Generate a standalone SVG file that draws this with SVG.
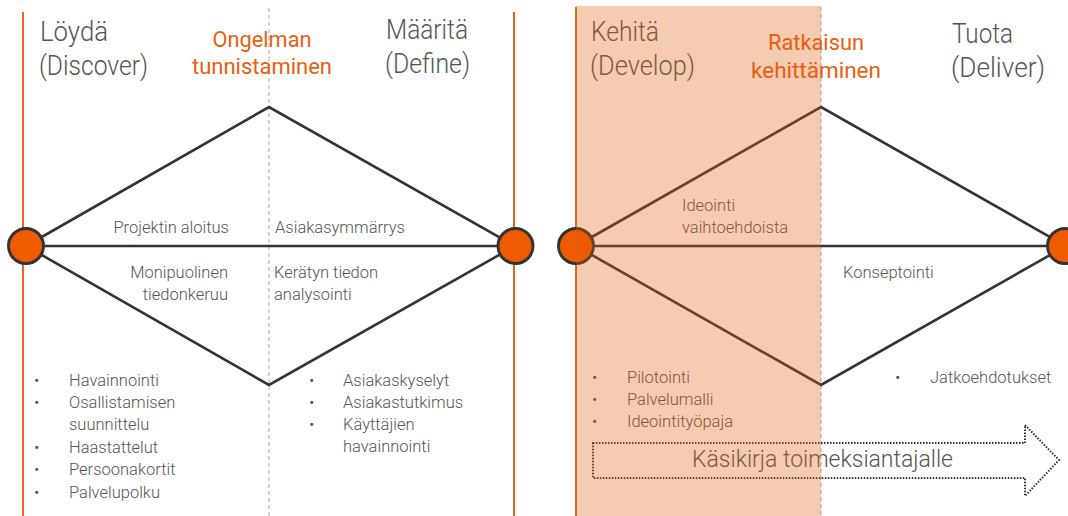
<svg xmlns="http://www.w3.org/2000/svg" width="1068" height="516" viewBox="0 0 1068 516">
  <style>
    .phase { stroke: #E8651E; stroke-width: 2; fill: none; }
    .divider { stroke: #A8A8A8; stroke-width: 1; stroke-dasharray: 4 3; fill: none; }
    .edge { stroke: #333333; stroke-width: 2.6; fill: none; stroke-linejoin: miter; }
    .hub { fill: #EF5B00; stroke: #333333; stroke-width: 3; }
    text { font-family: Roboto, "Liberation Sans", sans-serif; font-weight: 300; fill: #555555; }
    .head { font-size: 27px; }
    .key { font-size: 22px; fill: #E8600F; font-weight: 400; text-anchor: middle; }
    .lbl { font-size: 16.5px; }
    .bul { font-size: 16.5px; }
    .note { font-size: 24px; }
    .r { text-anchor: end; }
    .dotted { stroke: #333333; stroke-width: 2; stroke-dasharray: 1.5 1.5; fill: none; }
  </style>

  <rect x="0" y="0" width="1068" height="516" fill="#ffffff"/>

  <!-- phase boundaries -->
  <g id="boundaries">
    <line class="phase" x1="23" y1="12" x2="23" y2="516"/>
    <line class="phase" x1="514" y1="12" x2="514" y2="516"/>
    <line class="phase" x1="576" y1="7" x2="576" y2="516"/>
    <line class="divider" x1="269" y1="8" x2="269" y2="516"/>
    <line class="divider" x1="821" y1="7" x2="821" y2="516"/>
  </g>

  <!-- diamond connectors -->
  <g id="connectors">
    <path class="edge" d="M26 246 L269 107 L515 246 L269 385 Z"/>
    <line class="edge" x1="26" y1="246" x2="515" y2="246"/>
    <path class="edge" d="M576 246 L821 107 L1066 246 L821 385 Z"/>
    <line class="edge" x1="576" y1="246" x2="1066" y2="246"/>
  </g>

  <!-- hub nodes -->
  <g id="hub-start"><circle class="hub" cx="26" cy="246" r="17.5"/></g>
  <g id="hub-define"><circle class="hub" cx="515.5" cy="246" r="17.5"/></g>
  <g id="hub-develop"><circle class="hub" cx="576" cy="246" r="17.5"/></g>
  <g id="hub-deliver"><circle class="hub" cx="1065" cy="246" r="17.5"/></g>

  <!-- phase headings -->
  <g id="discover">
    <text class="head" x="40" y="41" textLength="68" lengthAdjust="spacingAndGlyphs">Löydä</text>
    <text class="head" x="39" y="75" textLength="109" lengthAdjust="spacingAndGlyphs">(Discover)</text>
  </g>
  <g id="define">
    <text class="head" x="386" y="39" textLength="82" lengthAdjust="spacingAndGlyphs">Määritä</text>
    <text class="head" x="385" y="73" textLength="85" lengthAdjust="spacingAndGlyphs">(Define)</text>
  </g>
  <g id="develop">
    <text class="head" x="591" y="41" textLength="68" lengthAdjust="spacingAndGlyphs">Kehitä</text>
    <text class="head" x="590" y="75" textLength="105" lengthAdjust="spacingAndGlyphs">(Develop)</text>
  </g>
  <g id="deliver">
    <text class="head" x="952" y="43" textLength="61" lengthAdjust="spacingAndGlyphs">Tuota</text>
    <text class="head" x="951" y="77" textLength="94" lengthAdjust="spacingAndGlyphs">(Deliver)</text>
  </g>
  <g id="problem">
    <text class="key" x="262" y="47" textLength="99" lengthAdjust="spacingAndGlyphs">Ongelman</text>
    <text class="key" x="262" y="74" textLength="140" lengthAdjust="spacingAndGlyphs">tunnistaminen</text>
  </g>
  <g id="solution">
    <text class="key" x="816" y="50" textLength="96" lengthAdjust="spacingAndGlyphs">Ratkaisun</text>
    <text class="key" x="816" y="78" textLength="130" lengthAdjust="spacingAndGlyphs">kehittäminen</text>
  </g>

  <!-- stage labels -->
  <g id="labels">
    <text class="lbl r" x="229" y="233">Projektin aloitus</text>
    <text class="lbl r" x="228" y="278">Monipuolinen</text>
    <text class="lbl r" x="228" y="300">tiedonkeruu</text>
    <text class="lbl" x="275" y="233">Asiakasymmärrys</text>
    <text class="lbl" x="274" y="278">Kerätyn tiedon</text>
    <text class="lbl" x="274" y="300">analysointi</text>
    <text class="lbl" x="682" y="211">Ideointi</text>
    <text class="lbl" x="682" y="233">vaihtoehdoista</text>
    <text class="lbl" x="843" y="278">Konseptointi</text>
  </g>

  <!-- method lists -->
  <g id="list-discover">
    <text class="bul" x="34" y="386">•</text>
    <text class="bul" x="69" y="386">Havainnointi</text>
    <text class="bul" x="34" y="408">•</text>
    <text class="bul" x="69" y="408">Osallistamisen</text>
    <text class="bul" x="69" y="430">suunnittelu</text>
    <text class="bul" x="34" y="453">•</text>
    <text class="bul" x="69" y="453">Haastattelut</text>
    <text class="bul" x="34" y="475">•</text>
    <text class="bul" x="69" y="475">Persoonakortit</text>
    <text class="bul" x="34" y="498">•</text>
    <text class="bul" x="69" y="498">Palvelupolku</text>
  </g>
  <g id="list-define">
    <text class="bul" x="309" y="386">•</text>
    <text class="bul" x="343" y="386">Asiakaskyselyt</text>
    <text class="bul" x="309" y="408">•</text>
    <text class="bul" x="343" y="408">Asiakastutkimus</text>
    <text class="bul" x="309" y="430">•</text>
    <text class="bul" x="343" y="430">Käyttäjien</text>
    <text class="bul" x="343" y="452">havainnointi</text>
  </g>
  <g id="list-develop">
    <text class="bul" x="592" y="383">•</text>
    <text class="bul" x="627" y="383">Pilotointi</text>
    <text class="bul" x="592" y="405">•</text>
    <text class="bul" x="627" y="405">Palvelumalli</text>
    <text class="bul" x="592" y="427">•</text>
    <text class="bul" x="627" y="427">Ideointityöpaja</text>
  </g>
  <g id="list-deliver">
    <text class="bul" x="895" y="383">•</text>
    <text class="bul" x="930" y="383">Jatkoehdotukset</text>
  </g>

  <!-- handbook arrow -->
  <g id="handbook">
    <path class="dotted" d="M593 443 H1025 V425 L1059 460 L1025 496 V478 H593 Z"/>
    <text class="note" x="692" y="467" textLength="261" lengthAdjust="spacingAndGlyphs">Käsikirja toimeksiantajalle</text>
  </g>

  <!-- tinted develop band drawn over everything -->
  <g id="develop-band">
    <rect x="576" y="6" width="245" height="510" fill="#E05C0E" fill-opacity="0.32"/>
  </g>
</svg>
